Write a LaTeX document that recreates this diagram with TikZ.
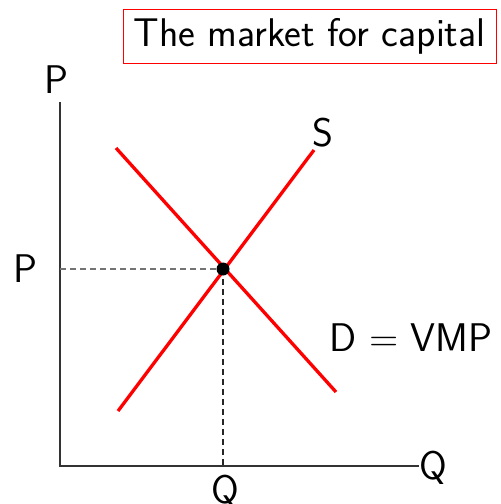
\documentclass[tikz,border=0pt]{standalone}
\usepackage{tikz}
\usetikzlibrary{positioning}

\begin{document}
\begin{tikzpicture}[x=1pt,y=-1pt,
  lbl/.style={font=\sffamily\fontsize{40}{44}\selectfont,inner sep=0pt},
  curve/.style={red,line width=3.3pt},
  axis/.style={black!80,line width=1.4pt},
  guide/.style={dashed,line width=1.1pt,dash pattern=on 6pt off 4pt}]
\useasboundingbox (0,0) rectangle (501,504);
% axes
\coordinate (O) at (60,466);
\coordinate (ytop) at (60,102);
\coordinate (xend) at (419,466);
\draw[axis] (ytop) -- (O) -- (xend);
\node[lbl] (ylab) at (57,80) {P};
\node[lbl,anchor=west] (xlab) at (419,468) {Q};
% supply and demand
\coordinate (S0) at (118,411);
\coordinate (S1) at (314,150);
\coordinate (D0) at (116,148);
\coordinate (D1) at (336,392);
\draw[curve] (S0) -- (S1);
\draw[curve] (D0) -- (D1);
\node[lbl] (slab) at (323,133) {S};
\node[lbl] (dlab) at (411,338) {D = VMP};
% equilibrium
\coordinate (E) at (223,269);
\coordinate (Ey) at (60,269);
\coordinate (Ex) at (223,466);
\draw[guide,black!55] (Ey) -- (E);
\draw[guide,black!85] (E) -- (Ex);
\fill (E) circle (6.5);
\node[lbl] (plab) at (25,269) {P};
\node[lbl] (qlab) at (225,492) {Q};
% title
\node[lbl,draw=red,line width=0.8pt,minimum width=373pt,minimum height=54pt] (title) at (309.5,36) {The market for capital};
\end{tikzpicture}
\end{document}
